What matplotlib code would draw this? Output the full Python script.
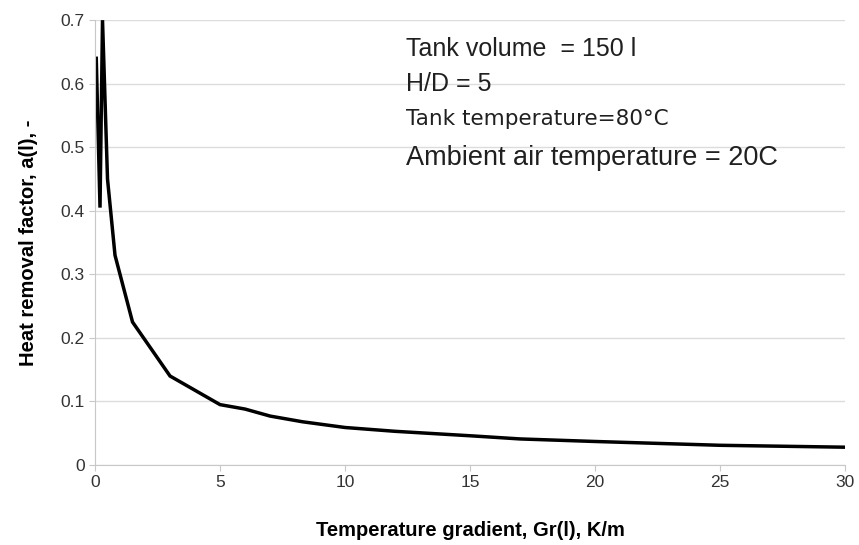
import matplotlib
matplotlib.use("Agg")
import matplotlib.pyplot as plt

# valeurs
gradient = [0.05, 0.2, 0.3, 0.5, 0.8, 1.5, 3, 5, 6, 7, 8.3, 10, 12, 15, 17, 20, 25, 30]
facteur = [0.64, 0.405, 0.70, 0.45, 0.33, 0.225, 0.14, 0.095, 0.088, 0.077,
           0.068, 0.059, 0.053, 0.046, 0.041, 0.037, 0.031, 0.028]

xticks = [0, 5, 10, 15, 20, 25, 30]
yticks = [0, 0.1, 0.2, 0.3, 0.4, 0.5, 0.6, 0.7]
ylabels = ["0", "0.1", "0.2", "0.3", "0.4", "0.5", "0.6", "0.7"]

notes = ["Tank volume  = 150 l", "H/D = 5", "Tank temperature=80°C",
         "Ambient air temperature = 20C"]

plt.rcParams['font.family'] = ['Liberation Sans', 'DejaVu Sans']

fig = plt.figure(figsize=(8.59, 5.45), dpi=100)
ax = fig.add_axes([0.1106, 0.1468, 0.8734, 0.8162])

ax.plot(gradient, facteur, color='black', lw=2.5, solid_joinstyle='miter')

ax.set_xlim(0, 30)
ax.set_ylim(0, 0.7)
ax.set_xticks(xticks)
ax.set_yticks(yticks)
ax.set_yticklabels(ylabels)
ax.grid(axis='y', color='#dcdcdc', lw=1)
ax.set_axisbelow(True)
for s in ['top', 'right']:
    ax.spines[s].set_visible(False)
for s in ['left', 'bottom']:
    ax.spines[s].set_color('#c8c8c8')
ax.tick_params(colors='#c8c8c8', labelcolor='#333333', labelsize=12.5, length=4)

ax.set_xlabel("Temperature gradient, Gr(l), K/m", fontsize=14.5, fontweight='bold', labelpad=22)
ax.set_ylabel("Heat removal factor, a(l), -", fontsize=14.5, fontweight='bold')
ax.yaxis.set_label_coords(-0.076, 0.5)

# le texte dans le graphique
polices = ['Liberation Sans', 'Liberation Sans', 'DejaVu Sans', 'Liberation Sans']
tailles = [18, 18, 15.5, 19.5]
ypos = [0.655, 0.6, 0.545, 0.483]
for t, f, s, yy in zip(notes, polices, tailles, ypos):
    ax.text(12.45, yy, t, family=[f, 'DejaVu Sans'], fontsize=s, color='#202020',
            va='center', ha='left')

fig.savefig("out.png", dpi=100)
